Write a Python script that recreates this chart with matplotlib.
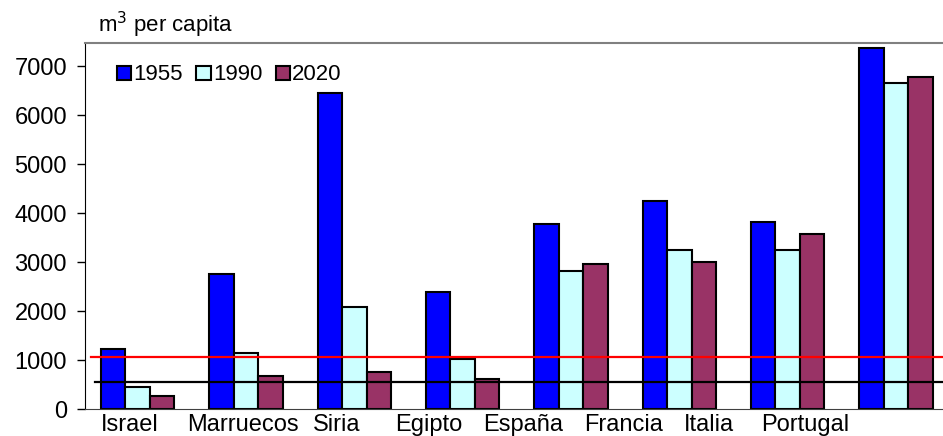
import numpy as np
import matplotlib
matplotlib.use("Agg")
import matplotlib.pyplot as plt

plt.rcParams['font.family'] = ['Liberation Sans', 'DejaVu Sans']

# datos (m3 per capita)
anios = ['1955', '1990', '2020']
v1955 = [1230, 2760, 6460, 2390, 3790, 4250, 3830, 7380]
v1990 = [460, 1140, 2080, 1030, 2820, 3250, 3260, 6660]
v2020 = [275, 685, 770, 610, 2960, 3010, 3570, 6780]
paises = ['Israel', 'Marruecos', 'Siria', 'Egipto', 'España', 'Francia', 'Italia', 'Portugal']
umbral_rojo = 1060
umbral_negro = 560

colores = ['#0000FF', '#CCFFFF', '#993366']
# las etiquetas del original no caen bajo cada grupo
pos_etiquetas = [-0.07, 0.97, 1.84, 2.69, 3.56, 4.49, 5.27, 6.16]

fig = plt.figure(figsize=(9.43, 4.36), dpi=100)
ax = fig.add_axes([0.0901, 0.0612, 0.9099, 0.841])

x = np.arange(len(v1955))
ancho = 0.226
for k, serie in enumerate([v1955, v1990, v2020]):
    ax.bar(x + (k - 1) * ancho, serie, ancho, color=colores[k], edgecolor='black',
           linewidth=1.5, label=anios[k], zorder=2)

ax.axhline(umbral_rojo, xmin=0.0066, xmax=1, color='red', linewidth=1.6, zorder=3)
ax.axhline(umbral_negro, xmin=0.0117, xmax=1, color='black', linewidth=1.6, zorder=3)

ax.set_xlim(-0.487, 7.435)
ax.set_ylim(0, 7480)
ax.set_yticks(range(0, 8000, 1000))
ax.tick_params(axis='y', labelsize=17, length=6, width=1, pad=7, direction='out')
ax.set_xticks(pos_etiquetas)
ax.set_xticklabels(paises, fontsize=17)
ax.tick_params(axis='x', length=0, pad=3.5)

ax.spines['right'].set_visible(False)
ax.spines['top'].set_color('#808080')
ax.spines['top'].set_linewidth(1.5)
ax.spines['bottom'].set_color('#404040')
ax.spines['left'].set_color('black')

ax.legend(loc='center left', bbox_to_anchor=(0.037, 0.912), ncol=3, frameon=False,
          fontsize=16, handlelength=0.65, handleheight=0.6, handletextpad=0.1,
          columnspacing=0.6, borderpad=0, borderaxespad=0)

fig.text(0.104, 0.943, 'm$^3$ per capita', fontsize=16, va='center', ha='left')

fig.savefig('out.png', dpi=100)
